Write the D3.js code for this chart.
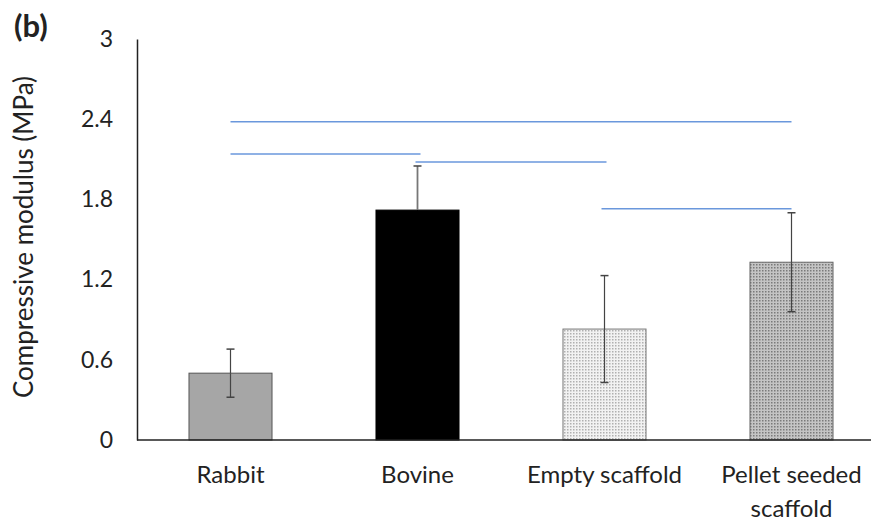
<!DOCTYPE html>
<html>
<head>
<meta charset="utf-8">
<script src="https://cdn.jsdelivr.net/npm/d3@7"></script>
<style>
  body { margin: 0; background: #fff; }
  svg text { font-family: Lato, "Open Sans", sans-serif; fill: #222; }
</style>
</head>
<body>
<svg></svg>
<script>
var categories = ["Rabbit", "Bovine", "Empty scaffold", "Pellet seeded scaffold"];
var means = [0.50, 1.72, 0.83, 1.33];
var errs = [0.18, 0.33, 0.40, 0.37];
var yTicks = [0, 0.6, 1.2, 1.8, 2.4, 3];
// significance bars: [from category, to category, level]
var sigFrom = [0, 0, 1, 2];
var sigTo = [3, 1, 2, 3];
var sigLevel = [2.38, 2.14, 2.08, 1.73];

var width = 871, height = 523;
var svg = d3.select("svg").attr("width", width).attr("height", height);

var x = d3.scaleBand()
    .domain(categories)
    .range([137, 885])
    .paddingInner(0.556)
    .paddingOuter(0.278);

var y = d3.scaleLinear()
    .domain([0, 3])
    .range([440, 39]);

// fill patterns
var defs = svg.append("defs");
function dots(id, bg, dot) {
    var p = defs.append("pattern")
        .attr("id", id)
        .attr("width", 3).attr("height", 3)
        .attr("patternUnits", "userSpaceOnUse");
    p.append("rect").attr("width", 3).attr("height", 3).attr("fill", bg);
    p.append("rect").attr("width", 1.5).attr("height", 1.5).attr("fill", dot);
}
dots("lightDots", "#f2f2f2", "#b0b0b0");
dots("darkDots", "#c4c4c4", "#7a7a7a");

var fills = ["#a6a6a6", "#000000", "url(#lightDots)", "url(#darkDots)"];
var strokes = ["#555", "#000", "#777", "#666"];
var lowerWhisker = ["#444", "#000", "#444", "#444"];

// y axis
var yAxis = svg.append("g")
    .attr("transform", "translate(137,0)")
    .call(d3.axisLeft(y).tickValues(yTicks).tickSize(0).tickPadding(24)
        .tickFormat(function(d) { return d; }));
yAxis.select(".domain").attr("stroke", "#222").attr("stroke-width", 1.5);
yAxis.selectAll("text").style("font-size", "23px").attr("fill", "#222");

// bars
svg.selectAll("rect.bar")
    .data(means)
    .enter()
    .append("rect")
    .attr("class", "bar")
    .attr("x", function(d, i) { return x(categories[i]); })
    .attr("y", function(d) { return y(d); })
    .attr("width", x.bandwidth())
    .attr("height", function(d) { return y(0) - y(d); })
    .attr("fill", function(d, i) { return fills[i]; })
    .attr("stroke", function(d, i) { return strokes[i]; })
    .attr("stroke-width", 1);

// x axis baseline
svg.append("line")
    .attr("x1", 137).attr("x2", width)
    .attr("y1", y(0)).attr("y2", y(0))
    .attr("stroke", "#222").attr("stroke-width", 1.5);

// error bars
var cx = function(i) { return x(categories[i]) + x.bandwidth() / 2; };
var eb = svg.selectAll("g.err")
    .data(means)
    .enter()
    .append("g")
    .attr("class", "err");
eb.append("line")
    .attr("x1", function(d, i) { return cx(i); })
    .attr("x2", function(d, i) { return cx(i); })
    .attr("y1", function(d, i) { return y(d + errs[i]); })
    .attr("y2", function(d) { return y(d); })
    .attr("stroke", function(d, i) { return i == 1 ? "#777" : "#444"; })
    .attr("stroke-width", function(d, i) { return i == 1 ? 1.8 : 1.2; });
eb.append("line")
    .attr("x1", function(d, i) { return cx(i); })
    .attr("x2", function(d, i) { return cx(i); })
    .attr("y1", function(d) { return y(d); })
    .attr("y2", function(d, i) { return y(d - errs[i]); })
    .attr("stroke", function(d, i) { return lowerWhisker[i]; })
    .attr("stroke-width", 1.2);
[1, -1].forEach(function(s) {
    eb.append("line")
        .attr("x1", function(d, i) { return cx(i) - 4; })
        .attr("x2", function(d, i) { return cx(i) + 4; })
        .attr("y1", function(d, i) { return y(d + s * errs[i]); })
        .attr("y2", function(d, i) { return y(d + s * errs[i]); })
        .attr("stroke", function(d, i) { return s < 0 ? lowerWhisker[i] : "#444"; })
        .attr("stroke-width", 1.5);
});

// significance lines
svg.selectAll("line.sig")
    .data(sigLevel)
    .enter()
    .append("line")
    .attr("class", "sig")
    .attr("x1", function(d, i) { return cx(sigFrom[i]) - (i == 2 ? 2 : 0) - (i == 3 ? 3 : 0); })
    .attr("x2", function(d, i) { return cx(sigTo[i]) + (i == 1 ? 3 : 0) + (i == 2 ? 2 : 0); })
    .attr("y1", function(d) { return y(d); })
    .attr("y2", function(d) { return y(d); })
    .attr("stroke", "#6a97dc")
    .attr("stroke-width", 1.5);

// category labels
var labelLines = [["Rabbit"], ["Bovine"], ["Empty scaffold"], ["Pellet seeded", "scaffold"]];
var lab = svg.selectAll("text.cat")
    .data(labelLines)
    .enter()
    .append("text")
    .attr("class", "cat")
    .attr("text-anchor", "middle")
    .attr("y", 483)
    .style("font-size", "24px");
lab.selectAll("tspan")
    .data(function(d, i) { return d.map(function(t) { return { t: t, i: i }; }); })
    .enter()
    .append("tspan")
    .attr("x", function(d) { return cx(d.i); })
    .attr("dy", function(d, j) { return j == 0 ? 0 : 34; })
    .text(function(d) { return d.t; });

// y axis title
svg.append("text")
    .attr("transform", "translate(33,237) rotate(-90)")
    .attr("text-anchor", "middle")
    .style("font-size", "26px")
    .text("Compressive modulus (MPa)");

// panel letter
svg.append("text")
    .attr("x", 14).attr("y", 37)
    .style("font-size", "31px")
    .style("font-weight", "bold")
    .text("(b)");
</script>
</body>
</html>
